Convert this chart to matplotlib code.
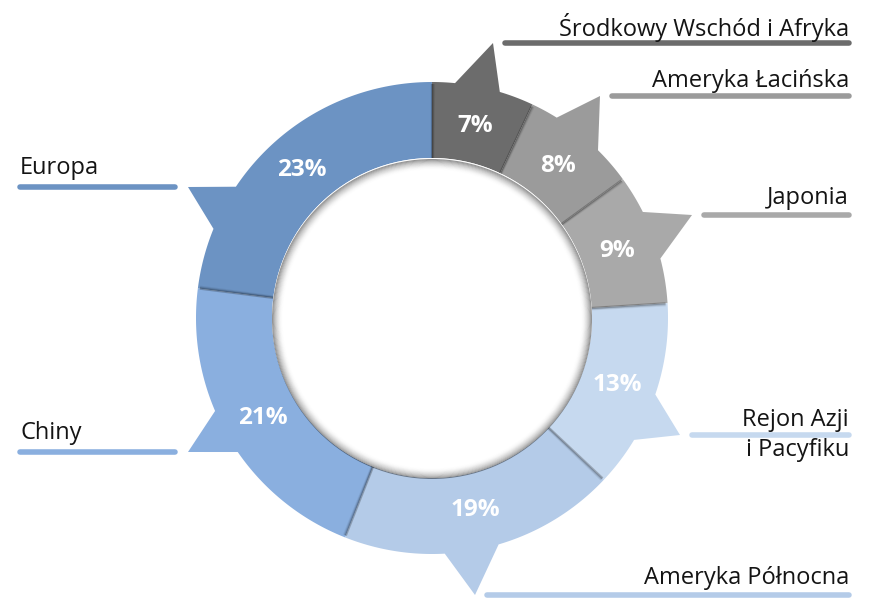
import numpy as np
import matplotlib.pyplot as plt
from matplotlib.patches import Polygon, Wedge, Circle

# data (clockwise from 12 o'clock)
regions = ['Środkowy Wschód i Afryka', 'Ameryka Łacińska', 'Japonia',
           'Rejon Azji\ni Pacyfiku', 'Ameryka Północna', 'Chiny', 'Europa']
shares = [7, 8, 9, 13, 19, 21, 23]
pct_labels = ['7%', '8%', '9%', '13%', '19%', '21%', '23%']

colors = ['#6c6c6c', '#9b9b9b', '#a9a9a9', '#c6d9ef', '#b4cbe8', '#8aafdf', '#6c93c3']

# layout (pixels, y down)
cx, cy = 432, 318
r_out, r_in = 236, 160
# label lines: (x0, x1, y), side
lines = [(505, 849, 43), (612, 849, 96), (704, 849, 215), (692, 849, 435),
         (487, 849, 595), (20, 175, 452), (20, 175, 187)]
sides = ['r', 'r', 'r', 'r', 'r', 'l', 'l']
text_dy = [-16, -15, -17, 0, -17, -19, -19]
# outer-arc angles where each spike starts/ends (deg, clockwise from top)
spike_base = [(5.6, 16.7), (31.9, 44.7), (63.3, 75.4), (108.9, 121.1),
              (163.6, 176.9), (235.4, 246.8), (292.2, 303.8)]


def pt(theta, r):
    t = np.radians(theta)
    return cx + r * np.sin(t), cy - r * np.cos(t)


def arc(t0, t1, r, n=60):
    ts = np.linspace(t0, t1, n)
    return [pt(t, r) for t in ts]


fig = plt.figure(figsize=(8.82, 6.09), dpi=100)
ax = fig.add_axes([0, 0, 1, 1])
ax.set_xlim(0, 882)
ax.set_ylim(609, 0)
ax.axis('off')

bounds = np.concatenate([[0], np.cumsum(shares)]) / sum(shares) * 360

for i in range(len(shares)):
    t0, t1 = bounds[i], bounds[i + 1]
    b1, b2 = spike_base[i]
    x0, x1, ly = lines[i]
    tip = (x0 - 12, ly) if sides[i] == 'r' else (x1 + 13, ly)
    verts = arc(t0, b1, r_out) + [tip] + arc(b2, t1, r_out) + arc(t1, t0, r_in)
    ax.add_patch(Polygon(verts, closed=True, facecolor=colors[i],
                         edgecolor='none', zorder=2))
    # soft shadow along the segment edge
    for k, a in enumerate([0.22, 0.12, 0.06]):
        p0, p1 = pt(t0 + 0.25 * k, r_in), pt(t0 + 0.25 * k, r_out - 2)
        ax.plot([p0[0], p1[0]], [p0[1], p1[1]], color='black', alpha=a,
                lw=1.6, zorder=3, solid_capstyle='butt')

    # percentage label
    mid = (t0 + t1) / 2
    tx, ty = pt(mid, 197)
    ax.text(tx, ty, pct_labels[i], color='white', fontsize=17.5,
            fontweight='bold', family='Open Sans', ha='center', va='center',
            zorder=5)

    # label + underline
    ax.plot([x0, x1], [ly, ly], color=colors[i], lw=4,
            solid_capstyle='round', zorder=2)
    if sides[i] == 'r':
        ax.text(x1, ly + text_dy[i], regions[i], ha='right', va='center',
                fontsize=17, family='Open Sans', color='#141414',
                linespacing=1.3)
    else:
        ax.text(x0, ly + text_dy[i], regions[i], ha='left', va='center',
                fontsize=17, family='Open Sans', color='#141414')

# inner hole with soft inner shadow
ax.add_patch(Circle((cx, cy), r_in, facecolor='white', edgecolor='none',
                    zorder=4))
for k in range(12):
    a = 0.4 * (1 - k / 12) ** 2
    ax.add_patch(Wedge((cx, cy + 1), r_in - k * 0.9, 0, 360, width=1.0,
                       facecolor='black', edgecolor='none', alpha=a,
                       zorder=4))

fig.savefig('out.png', dpi=100)
